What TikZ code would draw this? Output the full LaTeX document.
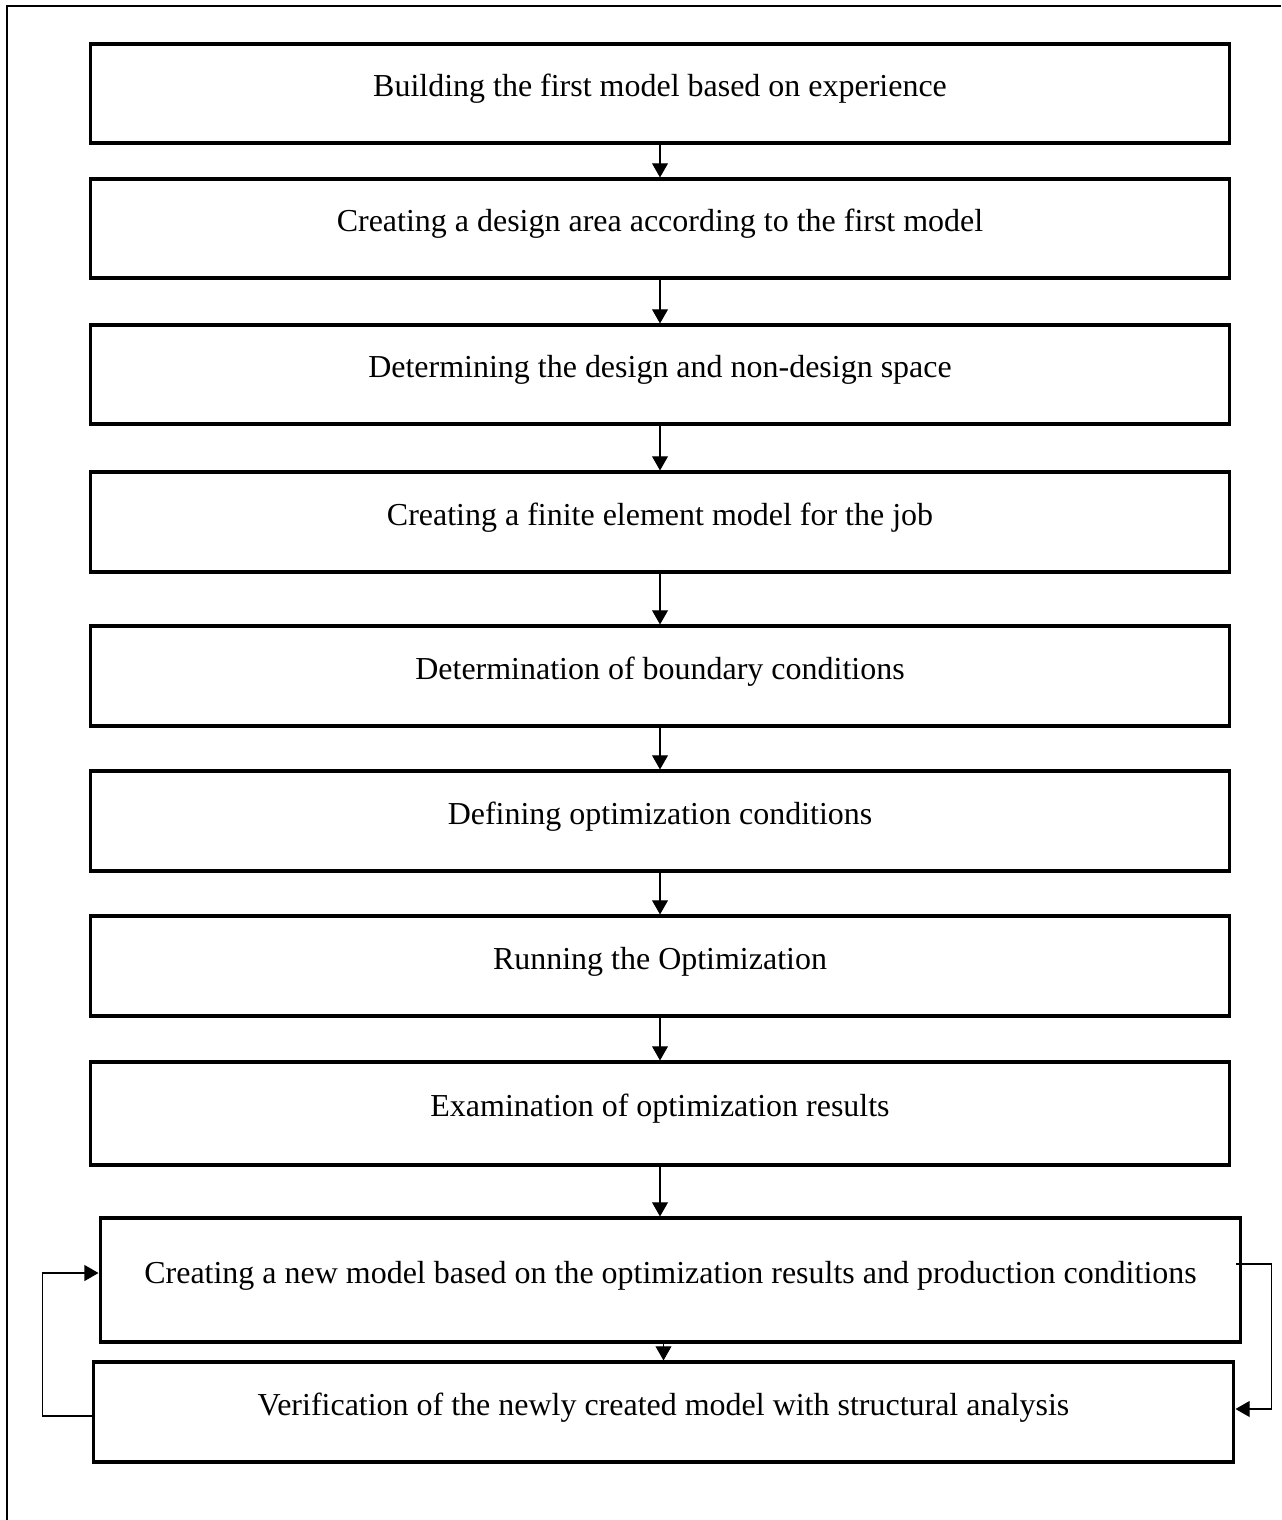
\documentclass[tikz,border=0pt]{standalone}
\usepackage{fontspec}
\setmainfont{Liberation Serif}
\usetikzlibrary{arrows.meta}

\tikzset{
  stepbox/.style={draw, line width=1.8pt, inner sep=0pt, minimum width=22.8cm,
    text height=0.36cm, text depth=0.24cm, font=\fontsize{18.2}{21}\selectfont},
  flow/.style={line width=0.6pt, -{Triangle[length=8pt,width=9pt]}}
}

\begin{document}
\begin{tikzpicture}[x=0.02cm, y=-0.02cm]
  \useasboundingbox (0,0) rectangle (1281,1520);
  % frame
  \draw[line width=1.5pt] (7,1520) -- (7,6) -- (1281,6);

  % steps
  \node[stepbox, minimum height=1.98cm] (b1) at (660,93.5) {Building the first model based on experience};
  \node[stepbox, minimum height=1.98cm] (b2) at (660,228.5) {Creating a design area according to the first model};
  \node[stepbox, minimum height=1.98cm] (b3) at (660,374.5) {Determining the design and non-design space};
  \node[stepbox, minimum height=2cm] (b4) at (660,522) {Creating a finite element model for the job};
  \node[stepbox, minimum height=2cm] (b5) at (660,676) {Determination of boundary conditions};
  \node[stepbox, minimum height=2cm] (b6) at (660,821) {Defining optimization conditions};
  \node[stepbox, minimum height=2cm] (b7) at (660,966) {Running the Optimization};
  \node[stepbox, minimum height=2.06cm] (b8) at (660,1113.5) {Examination of optimization results};
  \node[stepbox, minimum width=22.82cm, minimum height=2.48cm] (b9) at (670.5,1280) {Creating a new model based on the optimization results and production conditions};
  \node[stepbox, minimum width=22.82cm, minimum height=2cm] (b10) at (663.5,1412) {Verification of the newly created model with structural analysis};

  % arrows
  \foreach \a/\b in {b1/b2, b2/b3, b3/b4, b4/b5, b5/b6, b6/b7, b7/b8}
    \draw[flow] (\a) -- (\b);
  \draw[flow] (b8.south) -- (b8.south |- b9.north);
  \draw[flow] (b9.south -| b10.north) -- (b10.north);

  % feedback loop
  \draw[flow] ([yshift=-0.08cm]b10.west) -- ++(-49,0) |- ([yshift=0.14cm]b9.west);
  \draw[flow] ([xshift=-0.12cm, yshift=0.32cm]b9.east) -- ++(35,0) |- ([yshift=0.06cm]b10.east);
\end{tikzpicture}
\end{document}
